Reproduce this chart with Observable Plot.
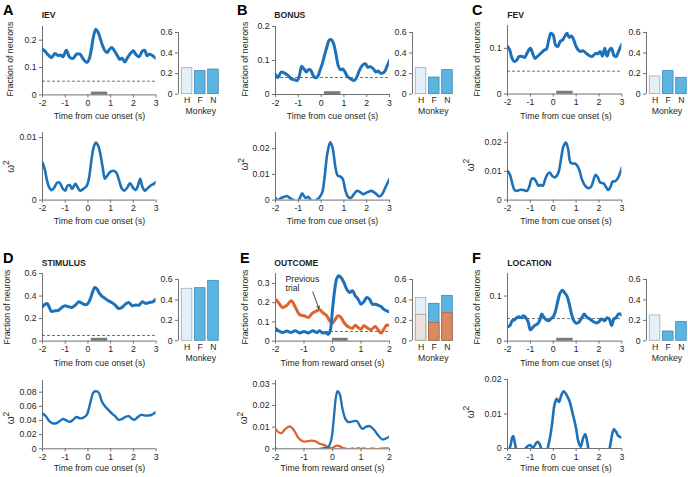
<!DOCTYPE html>
<html><head><meta charset="utf-8">
<script src="https://cdn.jsdelivr.net/npm/d3@7"></script>
<script src="https://cdn.jsdelivr.net/npm/@observablehq/plot@0.6"></script>
<style>
html,body{margin:0;padding:0;background:#fff;overflow:hidden;}
#fig{position:relative;width:688px;height:477px;overflow:hidden;font-family:"Liberation Sans",Arial,sans-serif;background:#fff;}
#fig svg{position:absolute;}
</style></head><body><div id="fig"></div>
<script>
// ---------------- DATA ----------------
const monkeys = ["H", "F", "N"];
const timeTicksCue = [-2, -1, 0, 1, 2, 3];
const timeTicksReward = [-2, -1, 0, 1, 2];
const barTicks = [0, 0.2, 0.4, 0.6];
const chanceLevel = [0.05];
const cueWindow = [0.15, 0.87];
const rewardWindow = [0, 0.55];

const barsIEV = [0.253, 0.224, 0.240];
const barsBonus = [0.253, 0.162, 0.234];
const barsFEV = [0.172, 0.224, 0.159];
const barsStim = [0.509, 0.515, 0.587];
const barsOutcome = [0.42, 0.362, 0.44];
const barsOutcomePrev = [0.254, 0.176, 0.27];
const barsLoc = [0.248, 0.091, 0.183];

const iev = [[-2,0.167],[-1.9,0.161],[-1.75,0.146],[-1.6,0.137],[-1.45,0.151],[-1.3,0.143],[-1.2,0.146],[-1.1,0.139],[-0.95,0.163],[-0.8,0.137],[-0.65,0.134],[-0.5,0.149],[-0.35,0.149],[-0.2,0.130],[-0.05,0.118],[0.05,0.130],[0.15,0.167],[0.25,0.216],[0.35,0.240],[0.45,0.228],[0.55,0.204],[0.65,0.179],[0.75,0.161],[0.85,0.155],[0.95,0.167],[1.05,0.173],[1.15,0.163],[1.3,0.143],[1.4,0.130],[1.5,0.134],[1.62,0.120],[1.75,0.137],[1.9,0.155],[2.0,0.161],[2.1,0.149],[2.25,0.139],[2.4,0.161],[2.5,0.163],[2.6,0.143],[2.7,0.149],[2.85,0.143],[3.0,0.133]];
const ievW = [[-2,0.0060],[-1.9,0.0049],[-1.8,0.0031],[-1.7,0.0020],[-1.6,0.0016],[-1.5,0.0019],[-1.35,0.0028],[-1.25,0.0028],[-1.1,0.0018],[-1.0,0.0015],[-0.9,0.0023],[-0.8,0.0024],[-0.7,0.0018],[-0.55,0.0026],[-0.45,0.0020],[-0.35,0.0015],[-0.2,0.0018],[-0.05,0.0023],[0.05,0.0036],[0.15,0.0063],[0.25,0.0084],[0.35,0.0092],[0.45,0.0087],[0.55,0.0073],[0.65,0.0052],[0.75,0.0034],[0.85,0.0039],[0.95,0.0044],[1.1,0.0047],[1.25,0.0044],[1.35,0.0034],[1.5,0.0018],[1.6,0.0015],[1.75,0.0021],[1.85,0.0027],[2.0,0.0019],[2.1,0.0016],[2.2,0.0023],[2.3,0.0034],[2.4,0.0021],[2.5,0.0015],[2.6,0.0018],[2.75,0.0023],[2.9,0.0026],[3.0,0.0029]];

const bonus = [[-2,0.059],[-1.9,0.049],[-1.75,0.066],[-1.6,0.063],[-1.45,0.056],[-1.3,0.046],[-1.15,0.043],[-1.05,0.041],[-0.95,0.056],[-0.85,0.083],[-0.75,0.075],[-0.65,0.066],[-0.55,0.073],[-0.45,0.071],[-0.35,0.056],[-0.25,0.049],[-0.15,0.053],[-0.05,0.071],[0.05,0.090],[0.15,0.115],[0.25,0.139],[0.35,0.159],[0.45,0.161],[0.55,0.149],[0.65,0.120],[0.75,0.085],[0.85,0.073],[0.95,0.075],[1.05,0.066],[1.15,0.053],[1.3,0.046],[1.45,0.041],[1.55,0.049],[1.65,0.066],[1.75,0.080],[1.85,0.088],[1.95,0.090],[2.05,0.080],[2.15,0.082],[2.3,0.075],[2.4,0.066],[2.5,0.069],[2.6,0.063],[2.7,0.063],[2.8,0.069],[2.9,0.085],[3.0,0.100]];
const bonusW = [[-2,0.0008],[-1.9,0.0],[-1.75,0.0008],[-1.6,0.0013],[-1.5,0.0016],[-1.4,0.001],[-1.3,0.0004],[-1.2,0.0],[-1.1,-0.0008],[-1.0,-0.0004],[-0.9,0.0015],[-0.83,0.0026],[-0.68,0.0008],[-0.57,0.0013],[-0.48,0.0003],[-0.4,-0.0002],[-0.3,-0.0008],[-0.22,0.0],[-0.1,0.0008],[0.05,0.003],[0.15,0.0088],[0.27,0.0179],[0.4,0.0225],[0.5,0.0205],[0.63,0.0127],[0.73,0.0095],[0.85,0.0091],[0.95,0.0082],[1.07,0.0036],[1.18,0.0013],[1.3,0.0008],[1.44,0.0023],[1.58,0.0036],[1.73,0.003],[1.85,0.0023],[2.02,0.003],[2.2,0.0036],[2.39,0.0026],[2.56,0.0014],[2.68,0.0023],[2.82,0.0049],[3.0,0.0082]];

const fev = [[-2,0.104],[-1.9,0.096],[-1.8,0.078],[-1.7,0.071],[-1.6,0.074],[-1.5,0.082],[-1.35,0.082],[-1.25,0.080],[-1.15,0.089],[-1.0,0.100],[-0.9,0.089],[-0.8,0.078],[-0.7,0.082],[-0.55,0.089],[-0.4,0.096],[-0.3,0.098],[-0.2,0.118],[-0.1,0.133],[0.0,0.129],[0.1,0.107],[0.2,0.104],[0.3,0.115],[0.4,0.118],[0.5,0.126],[0.6,0.133],[0.7,0.124],[0.8,0.127],[0.9,0.118],[1.0,0.104],[1.1,0.096],[1.2,0.093],[1.3,0.095],[1.4,0.091],[1.55,0.085],[1.7,0.082],[1.85,0.089],[1.95,0.088],[2.05,0.093],[2.15,0.083],[2.25,0.100],[2.35,0.083],[2.45,0.096],[2.55,0.100],[2.65,0.085],[2.75,0.082],[2.85,0.093],[3.0,0.109]];
const fevW = [[-2,0.0102],[-1.9,0.009],[-1.8,0.0061],[-1.7,0.0036],[-1.6,0.0032],[-1.45,0.0036],[-1.3,0.0035],[-1.15,0.0032],[-1.05,0.0046],[-0.95,0.0073],[-0.85,0.0075],[-0.75,0.0065],[-0.65,0.005],[-0.55,0.0053],[-0.45,0.005],[-0.35,0.0073],[-0.25,0.009],[-0.15,0.0096],[-0.05,0.0084],[0.05,0.0079],[0.15,0.0084],[0.25,0.0102],[0.35,0.0148],[0.45,0.0188],[0.55,0.02],[0.65,0.0177],[0.75,0.0131],[0.85,0.0127],[0.95,0.0127],[1.05,0.0119],[1.15,0.0102],[1.25,0.0073],[1.35,0.0055],[1.5,0.0042],[1.65,0.0046],[1.75,0.0067],[1.85,0.0088],[1.95,0.0079],[2.05,0.0061],[2.2,0.0058],[2.3,0.0046],[2.4,0.0035],[2.5,0.0046],[2.6,0.0065],[2.7,0.0065],[2.8,0.0073],[2.9,0.009],[3.0,0.0113]];

const stim = [[-2,0.305],[-1.9,0.325],[-1.8,0.334],[-1.7,0.299],[-1.6,0.263],[-1.45,0.269],[-1.3,0.272],[-1.15,0.299],[-1.0,0.314],[-0.85,0.305],[-0.7,0.299],[-0.55,0.320],[-0.4,0.349],[-0.25,0.334],[-0.1,0.322],[0.0,0.334],[0.1,0.373],[0.2,0.432],[0.3,0.476],[0.4,0.462],[0.5,0.426],[0.6,0.402],[0.75,0.379],[0.9,0.358],[1.05,0.343],[1.2,0.320],[1.35,0.290],[1.5,0.299],[1.65,0.328],[1.8,0.343],[1.95,0.314],[2.1,0.320],[2.25,0.320],[2.4,0.349],[2.55,0.334],[2.7,0.343],[2.85,0.349],[3.0,0.373]];
const stimW = [[-2,0.050],[-1.85,0.046],[-1.7,0.039],[-1.55,0.036],[-1.4,0.036],[-1.25,0.039],[-1.1,0.042],[-0.95,0.040],[-0.8,0.038],[-0.65,0.041],[-0.5,0.045],[-0.35,0.043],[-0.2,0.044],[-0.05,0.048],[0.05,0.058],[0.15,0.071],[0.25,0.080],[0.4,0.081],[0.5,0.078],[0.6,0.068],[0.75,0.060],[0.9,0.055],[1.05,0.050],[1.2,0.046],[1.35,0.041],[1.5,0.042],[1.65,0.045],[1.8,0.046],[1.95,0.042],[2.05,0.041],[2.2,0.045],[2.35,0.048],[2.5,0.047],[2.65,0.047],[2.8,0.048],[3.0,0.052]];

const outcome = [[-2,0.066],[-1.9,0.054],[-1.75,0.045],[-1.6,0.052],[-1.45,0.045],[-1.3,0.054],[-1.15,0.042],[-1.0,0.050],[-0.85,0.042],[-0.7,0.054],[-0.55,0.045],[-0.45,0.054],[-0.35,0.042],[-0.25,0.045],[-0.15,0.036],[-0.08,0.054],[0.0,0.166],[0.08,0.270],[0.15,0.326],[0.22,0.340],[0.3,0.331],[0.4,0.305],[0.5,0.270],[0.6,0.253],[0.7,0.262],[0.8,0.236],[0.9,0.218],[1.0,0.192],[1.1,0.205],[1.2,0.227],[1.3,0.218],[1.4,0.192],[1.5,0.192],[1.6,0.187],[1.7,0.180],[1.8,0.166],[1.9,0.158],[2.0,0.153]];
const outcomePrev = [[-2,0.218],[-1.9,0.201],[-1.75,0.175],[-1.6,0.187],[-1.45,0.210],[-1.3,0.175],[-1.15,0.137],[-1.0,0.132],[-0.85,0.123],[-0.7,0.146],[-0.55,0.158],[-0.45,0.163],[-0.35,0.149],[-0.2,0.132],[-0.1,0.106],[0.0,0.094],[0.1,0.114],[0.2,0.132],[0.3,0.123],[0.4,0.097],[0.5,0.080],[0.6,0.071],[0.7,0.066],[0.8,0.083],[0.9,0.071],[1.0,0.062],[1.1,0.080],[1.2,0.071],[1.35,0.059],[1.5,0.076],[1.6,0.059],[1.7,0.042],[1.8,0.062],[1.9,0.083],[2.0,0.080]];
const outcomeW = [[-2,0.0003],[-1.92,-0.0006],[-1.5,-0.001],[-1.0,-0.001],[-0.6,-0.0004],[-0.45,0.0],[-0.3,0.0003],[-0.15,0.0008],[-0.05,0.0038],[0.05,0.0146],[0.12,0.0238],[0.18,0.0266],[0.25,0.0254],[0.35,0.0185],[0.45,0.0138],[0.55,0.0123],[0.7,0.0126],[0.85,0.0128],[0.95,0.0108],[1.05,0.0092],[1.15,0.01],[1.3,0.0105],[1.45,0.0089],[1.6,0.0062],[1.75,0.0043],[1.85,0.0046],[2.0,0.0057]];
const outcomePrevW = [[-2,0.0092],[-1.9,0.0077],[-1.8,0.0072],[-1.65,0.0092],[-1.5,0.0103],[-1.35,0.0085],[-1.2,0.0051],[-1.05,0.0035],[-0.9,0.0034],[-0.75,0.0038],[-0.6,0.0035],[-0.45,0.0023],[-0.3,0.0018],[-0.15,0.0008],[-0.05,0.0003],[0.05,0.0008],[0.15,0.0015],[0.25,0.0012],[0.35,0.0005],[0.5,0.0],[0.6,-0.0002],[0.7,0.0002],[0.8,-0.0002],[0.9,0.0003],[1.0,-0.0001],[1.1,0.0002],[1.25,-0.0002],[1.4,0.0002],[1.55,-0.0002],[1.7,0.0001],[1.85,0.0002],[2.0,0.0002]];

const loc = [[-2,0.032],[-1.9,0.034],[-1.8,0.045],[-1.7,0.047],[-1.6,0.052],[-1.5,0.054],[-1.4,0.052],[-1.3,0.056],[-1.2,0.052],[-1.1,0.043],[-1.0,0.025],[-0.9,0.030],[-0.8,0.035],[-0.7,0.0375],[-0.6,0.045],[-0.5,0.060],[-0.4,0.052],[-0.3,0.047],[-0.2,0.045],[-0.1,0.050],[0.0,0.054],[0.1,0.067],[0.2,0.089],[0.3,0.107],[0.4,0.113],[0.5,0.107],[0.6,0.100],[0.7,0.082],[0.8,0.060],[0.9,0.045],[1.0,0.040],[1.1,0.041],[1.25,0.052],[1.35,0.060],[1.45,0.054],[1.6,0.049],[1.75,0.043],[1.9,0.040],[2.0,0.043],[2.1,0.049],[2.25,0.045],[2.35,0.052],[2.45,0.049],[2.55,0.035],[2.65,0.049],[2.75,0.052],[2.85,0.060],[2.95,0.060],[3.0,0.057]];
const locW = [[-2,-0.002],[-1.85,0.0014],[-1.8,0.0031],[-1.75,0.0036],[-1.7,0.0024],[-1.6,-0.0005],[-1.4,-0.002],[-1.25,-0.0003],[-1.15,0.0005],[-1.0,0.001],[-0.9,0.0002],[-0.8,0.001],[-0.7,0.0019],[-0.6,0.0014],[-0.5,-0.0005],[-0.35,-0.0015],[-0.25,0.0],[-0.15,0.0029],[-0.05,0.0072],[0.05,0.0125],[0.15,0.0144],[0.25,0.0135],[0.35,0.0154],[0.45,0.0166],[0.55,0.0159],[0.7,0.0139],[0.85,0.0101],[1.0,0.0058],[1.1,0.0019],[1.2,0.0005],[1.3,0.0029],[1.4,0.0041],[1.5,0.0014],[1.6,-0.0014],[2.0,-0.0034],[2.4,-0.0014],[2.5,0.0014],[2.6,0.0048],[2.65,0.0056],[2.75,0.0048],[2.85,0.0036],[3.0,0.0032]];

const annotationText = ["Previous\ntrial"];
const annotationAnchor = [[-1.65, 0.338]];
const annotationArrow = [[-0.69, 0.256, -0.48, 0.170]];

// ---------------- STYLE ----------------
const AX = "#707070", TXT = "#231f20";
const BLUE = "#1c71b8", ORANGE = "#e0622c";
const FONT = "Liberation Sans, Arial, sans-serif";
const FS = 8.7;
const fig = document.getElementById("fig");
const fmt = d => String(d);
const baseStyle = {background: "transparent", fontFamily: FONT, fontSize: FS + "px", overflow: "visible", color: TXT};

function place(svg, left, top) {
  svg.style.position = "absolute";
  svg.style.left = left + "px";
  svg.style.top = top + "px";
  svg.style.maxWidth = "none";
  fig.appendChild(svg);
}

function linePlot(p) {
  const ml = 34, mr = 6, mt = 4, mb = 16;
  const marks = [
    Plot.axisX({ticks: p.xTicks, tickFormat: fmt, tickSize: 3, tickPadding: 2, stroke: AX, fill: TXT, label: null}),
    Plot.axisY({ticks: p.yTicks, tickFormat: fmt, tickSize: 3, tickPadding: 3, stroke: AX, fill: TXT, label: null}),
    Plot.ruleY([0], {stroke: AX, strokeWidth: 1}),
    Plot.ruleX([p.xDomain[0]], {stroke: AX, strokeWidth: 1})
  ];
  if (p.dashed) marks.push(Plot.ruleY(chanceLevel, {stroke: "#4d4d4d", strokeDasharray: "3,2", strokeWidth: 0.8}));
  if (p.cue) marks.push(Plot.ruleY([p.cue], {x1: d => d[0], x2: d => d[1], y: d => 0, stroke: "#7a7a7a", strokeWidth: 3, dy: -1.8}));
  for (const s of p.series) {
    marks.push(Plot.line(s.data, {x: d => d[0], y: d => d[1], stroke: s.color, strokeWidth: p.sw, curve: "catmull-rom", clip: true}));
  }
  if (p.extra) marks.push(...p.extra);
  const svg = Plot.plot({
    width: p.px1 - p.px0 + ml + mr,
    height: p.py0 - p.pyTop + mt + mb,
    marginLeft: ml, marginRight: mr, marginTop: mt, marginBottom: mb,
    style: baseStyle,
    x: {domain: p.xDomain},
    y: {domain: p.yDomain},
    marks
  });
  place(svg, p.px0 - ml, p.pyTop - mt);
}

const LIGHT_BLUE = {fill: "#e4f0f8", stroke: "#9aaab6"};
const MID_BLUE = {fill: "#5cb4e0", stroke: "#3a88b8"};
const LIGHT_OR = {fill: "#ede2db", stroke: "#a59c96"};
const MID_OR = {fill: "#da8a5e", stroke: "#b0663f"};

function barPlot(p) {
  const xDom = [-0.65, 2.65];
  const unit = 13.2;
  const fw = (xDom[1] - xDom[0]) * unit;
  const ml = 26, mr = 4, mt = 4, mb = 14;
  const rows = v => monkeys.map((m, i) => ({m, i, v: v[i]}));
  const rect = (data, c) => Plot.rectY(data, {x1: d => d.i - 0.4, x2: d => d.i + 0.4, y: "v", fill: c.fill, stroke: c.stroke, strokeWidth: 0.8});
  const main = rows(p.values);
  const marks = [
    rect(main.filter(d => d.i === 0), LIGHT_BLUE),
    rect(main.filter(d => d.i > 0), MID_BLUE)
  ];
  if (p.overlay) {
    const ov = rows(p.overlay);
    marks.push(rect(ov.filter(d => d.i === 0), LIGHT_OR), rect(ov.filter(d => d.i > 0), MID_OR));
  }
  marks.push(
    Plot.ruleX([xDom[0]], {stroke: AX, strokeWidth: 1}),
    Plot.axisX({ticks: [0, 1, 2], tickFormat: i => monkeys[i], tickSize: 0, tickPadding: 3, fill: TXT, label: null}),
    Plot.axisY({ticks: barTicks, tickFormat: fmt, tickSize: 3, tickPadding: 3, stroke: AX, fill: TXT, label: null})
  );
  const svg = Plot.plot({
    width: fw + ml + mr,
    height: p.py0 - p.pyTop + mt + mb,
    marginLeft: ml, marginRight: mr, marginTop: mt, marginBottom: mb,
    style: baseStyle,
    x: {domain: xDom},
    y: {domain: [0, 0.6]},
    marks
  });
  place(svg, p.pxSpine - ml, p.pyTop - mt);
}

// ---------------- PANELS ----------------
// A
linePlot({px0: 41.7, px1: 155.3, py0: 94, pyTop: 25.6, xDomain: [-2, 3], yDomain: [0, 0.25], xTicks: timeTicksCue, yTicks: [0, 0.1, 0.2], series: [{data: iev, color: BLUE}], dashed: true, cue: cueWindow, sw: 3});
linePlot({px0: 41.7, px1: 155.3, py0: 199.3, pyTop: 131.7, xDomain: [-2, 3], yDomain: [0, 0.0108], xTicks: timeTicksCue, yTicks: [0, 0.01], series: [{data: ievW, color: BLUE}], sw: 2.6});
barPlot({pxSpine: 178, py0: 94, pyTop: 32.3, values: barsIEV});
// B
linePlot({px0: 275, px1: 389, py0: 94, pyTop: 26, xDomain: [-2, 3], yDomain: [0, 0.2], xTicks: timeTicksCue, yTicks: [0, 0.1, 0.2], series: [{data: bonus, color: BLUE}], dashed: true, cue: cueWindow, sw: 3});
linePlot({px0: 275, px1: 389, py0: 199.3, pyTop: 131.7, xDomain: [-2, 3], yDomain: [0, 0.0263], xTicks: timeTicksCue, yTicks: [0, 0.01, 0.02], series: [{data: bonusW, color: BLUE}], sw: 2.6});
barPlot({pxSpine: 411.7, py0: 94, pyTop: 32.3, values: barsBonus});
// C
linePlot({px0: 507.3, px1: 621.7, py0: 94, pyTop: 25.45, xDomain: [-2, 3], yDomain: [0, 0.15], xTicks: timeTicksCue, yTicks: [0, 0.1], series: [{data: fev, color: BLUE}], dashed: true, cue: cueWindow, sw: 3});
linePlot({px0: 507.3, px1: 621.7, py0: 199.3, pyTop: 131.7, xDomain: [-2, 3], yDomain: [0, 0.0235], xTicks: timeTicksCue, yTicks: [0, 0.01, 0.02], series: [{data: fevW, color: BLUE}], sw: 2.6});
barPlot({pxSpine: 645.7, py0: 94, pyTop: 32.3, values: barsFEV});
// D
linePlot({px0: 41.7, px1: 155.3, py0: 340.3, pyTop: 272.7, xDomain: [-2, 3], yDomain: [0, 0.6], xTicks: timeTicksCue, yTicks: [0, 0.2, 0.4, 0.6], series: [{data: stim, color: BLUE}], dashed: true, cue: cueWindow, sw: 3});
linePlot({px0: 41.7, px1: 155.3, py0: 448.3, pyTop: 380, xDomain: [-2, 3], yDomain: [0, 0.0965], xTicks: timeTicksCue, yTicks: [0, 0.02, 0.04, 0.06, 0.08], series: [{data: stimW, color: BLUE}], sw: 2.4});
barPlot({pxSpine: 178, py0: 340.3, pyTop: 279, values: barsStim});
// E
linePlot({px0: 275, px1: 389, py0: 340.3, pyTop: 272.7, xDomain: [-2, 2], yDomain: [0, 0.352], xTicks: timeTicksReward, yTicks: [0, 0.1, 0.2, 0.3], series: [{data: outcomePrev, color: ORANGE}, {data: outcome, color: BLUE}], dashed: true, cue: rewardWindow, sw: 3,
  extra: [
    Plot.text(annotationText, {x: () => annotationAnchor[0][0], y: () => annotationAnchor[0][1], text: d => d, textAnchor: "start", lineAnchor: "top", fill: TXT, fontSize: FS}),
    Plot.arrow(annotationArrow, {x1: d => d[0], y1: d => d[1], x2: d => d[2], y2: d => d[3], stroke: "#111", strokeWidth: 0.8, headLength: 5, bend: 0})
  ]});
linePlot({px0: 275, px1: 389, py0: 448.3, pyTop: 380, xDomain: [-2, 2], yDomain: [0, 0.0315], xTicks: timeTicksReward, yTicks: [0, 0.01, 0.02, 0.03], series: [{data: outcomePrevW, color: ORANGE}, {data: outcomeW, color: BLUE}], sw: 2.3});
barPlot({pxSpine: 411.7, py0: 340.3, pyTop: 279, values: barsOutcome, overlay: barsOutcomePrev});
// F
linePlot({px0: 507.3, px1: 621.7, py0: 340.3, pyTop: 272.7, xDomain: [-2, 3], yDomain: [0, 0.15], xTicks: timeTicksCue, yTicks: [0, 0.1], series: [{data: loc, color: BLUE}], dashed: true, cue: cueWindow, sw: 3});
linePlot({px0: 507.3, px1: 621.7, py0: 448.3, pyTop: 379.3, xDomain: [-2, 3], yDomain: [0, 0.02], xTicks: timeTicksCue, yTicks: [0, 0.01, 0.02], series: [{data: locW, color: BLUE}], sw: 2.6});
barPlot({pxSpine: 645.7, py0: 340.3, pyTop: 279, values: barsLoc});

// ---------------- TEXT OVERLAY ----------------
const layout = {
  letters: [["A", 3, 15], ["B", 237, 15], ["C", 472, 15], ["D", 3, 263], ["E", 240, 263], ["F", 472, 263]],
  titles: [["IEV", 41.7, 18.4], ["BONUS", 274.3, 18.4], ["FEV", 507.3, 18.4], ["STIMULUS", 41.7, 265.7], ["OUTCOME", 274.3, 265.7], ["LOCATION", 507.3, 265.7]],
  fracLabels: [[12.7, 59.2], [247.7, 59.2], [480, 59.2], [9.5, 307], [247.7, 307], [479.5, 307]],
  omegaLabels: [[13.5, 166.5], [248.3, 164.3], [473.5, 165], [13.5, 418], [247, 418], [473.5, 412]],
  xLabels: [
    ["Time from cue onset (s)", 99.5, 119], ["Time from cue onset (s)", 99.5, 223.5],
    ["Time from cue onset (s)", 332.5, 119], ["Time from cue onset (s)", 332.5, 223.5],
    ["Time from cue onset (s)", 566, 119], ["Time from cue onset (s)", 566, 223.5],
    ["Time from cue onset (s)", 99.5, 366], ["Time from cue onset (s)", 99.5, 471],
    ["Time from reward onset (s)", 332.5, 366], ["Time from reward onset (s)", 332.5, 471],
    ["Time from cue onset (s)", 566, 366], ["Time from cue onset (s)", 566, 471]
  ],
  monkeyLabels: [[200.8, 113.5], [433.3, 113.5], [667, 113.5], [200.8, 360.5], [433.3, 360.5], [667, 360.5]]
};

const ov = d3.select(fig).append("svg")
  .attr("width", 688).attr("height", 477)
  .style("left", "0px").style("top", "0px")
  .attr("font-family", FONT).attr("fill", TXT);

for (const [s, x, y] of layout.letters)
  ov.append("text").attr("x", x).attr("y", y).attr("font-size", 14.5).attr("font-weight", "bold").attr("fill", "#000").text(s);
for (const [s, x, y] of layout.titles)
  ov.append("text").attr("x", x).attr("y", y).attr("font-size", 8.6).attr("font-weight", "bold").text(s);
for (const [x, y] of layout.fracLabels)
  ov.append("text").attr("transform", `translate(${x},${y}) rotate(-90)`).attr("text-anchor", "middle").attr("font-size", FS).text("Fraction of neurons");
for (const [x, y] of layout.omegaLabels) {
  const t = ov.append("text").attr("transform", `translate(${x},${y}) rotate(-90)`).attr("text-anchor", "middle").attr("font-size", 10);
  t.append("tspan").text("ω");
  t.append("tspan").attr("dy", -4.5).attr("font-size", 8.5).text("2");
}
for (const [s, x, y] of layout.xLabels)
  ov.append("text").attr("x", x).attr("y", y).attr("text-anchor", "middle").attr("font-size", FS).text(s);
for (const [x, y] of layout.monkeyLabels)
  ov.append("text").attr("x", x).attr("y", y).attr("text-anchor", "middle").attr("font-size", FS).text("Monkey");
</script></body></html>
